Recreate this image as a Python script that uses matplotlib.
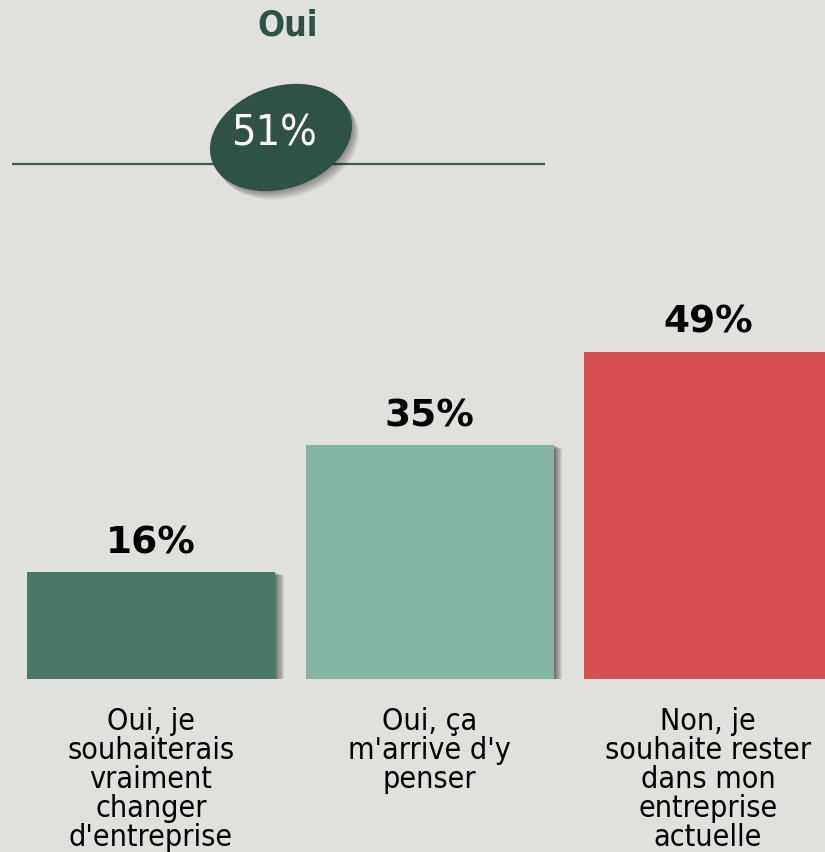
import matplotlib
matplotlib.use("Agg")
import matplotlib.pyplot as plt
from matplotlib.patches import Ellipse
import matplotlib.patheffects as pe
import matplotlib.transforms as mtransforms

# ---- data ----
categories = [
    "Oui, je\nsouhaiterais\nvraiment\nchanger\nd'entreprise",
    "Oui, ça\nm'arrive d'y\npenser",
    "Non, je\nsouhaite rester\ndans mon\nentreprise\nactuelle",
]
values = [16, 35, 49]
bar_colors = ["#4a7868", "#84b5a2", "#d94e50"]
group_title = "Oui"
oui_total = values[0] + values[1]

BG = "#e0e0dc"
DARK = "#2f5246"

W, H = 825, 852
fig = plt.figure(figsize=(W / 100, H / 100), dpi=100, facecolor=BG)

# bar axes (pixel-derived placement)
ax_bottom_px = 679
ax_top_px = 200
ax = fig.add_axes([0, (H - ax_bottom_px) / H, 1, (ax_bottom_px - ax_top_px) / H])
ax.set_facecolor("none")
unit = 278.5
ax.set_xlim(-151 / unit, (W - 151) / unit)
ax.set_ylim(0, (ax_bottom_px - ax_top_px) / 6.68)
ax.axis("off")

shadow = [pe.SimplePatchShadow(offset=(0.8 * k, -0.3 * k), shadow_rgbFace="black", alpha=0.08)
          for k in range(1, 9)] + [pe.Normal()]

xs = list(range(len(values)))
bars = ax.bar(xs, values, width=248 / unit, color=bar_colors, zorder=3)
for b in bars:
    b.set_path_effects(shadow)

val_trans = mtransforms.offset_copy(ax.transData, fig=fig, x=0, y=19, units="dots")
lab_trans = mtransforms.offset_copy(ax.transData, fig=fig, x=0, y=-28, units="dots")
for x, v, lab in zip(xs, values, categories):
    ax.text(x, v, f"{v}%", transform=val_trans, ha="center", va="baseline",
            fontsize=27, fontweight="bold", color="black", family="DejaVu Sans")
    ax.text(x, 0, lab, transform=lab_trans, ha="center", va="top",
            fontsize=21.8, color="black", family="DejaVu Sans", fontstretch="condensed",
            linespacing=1.0, clip_on=False)

# overlay (pixel coords, y up)
ov = fig.add_axes([0, 0, 1, 1])
ov.set_xlim(0, W)
ov.set_ylim(0, H)
ov.axis("off")
ov.set_facecolor("none")

ov.plot([12, 545], [H - 164, H - 164], color="#3a5d50", lw=1.6, solid_capstyle="butt", zorder=1)
ell = Ellipse((281, H - 137.5), 146, 102, angle=18.7, facecolor=DARK, edgecolor="none", zorder=2)
ell.set_path_effects([pe.SimplePatchShadow(offset=(0.6 * k, -0.75 * k), shadow_rgbFace="black", alpha=0.05)
                      for k in range(1, 9)] + [pe.Normal()])
ov.add_patch(ell)
ov.text(274, H - 133.5, f"{oui_total}%", ha="center", va="center", color="white",
        fontsize=31, family="DejaVu Sans", fontstretch="condensed", zorder=3)
ov.text(287.5, H - 25, group_title, ha="center", va="center", color=DARK,
        fontsize=25.5, fontweight="bold", family="DejaVu Sans", fontstretch="condensed")

fig.savefig("out.png", dpi=100, facecolor=BG)
